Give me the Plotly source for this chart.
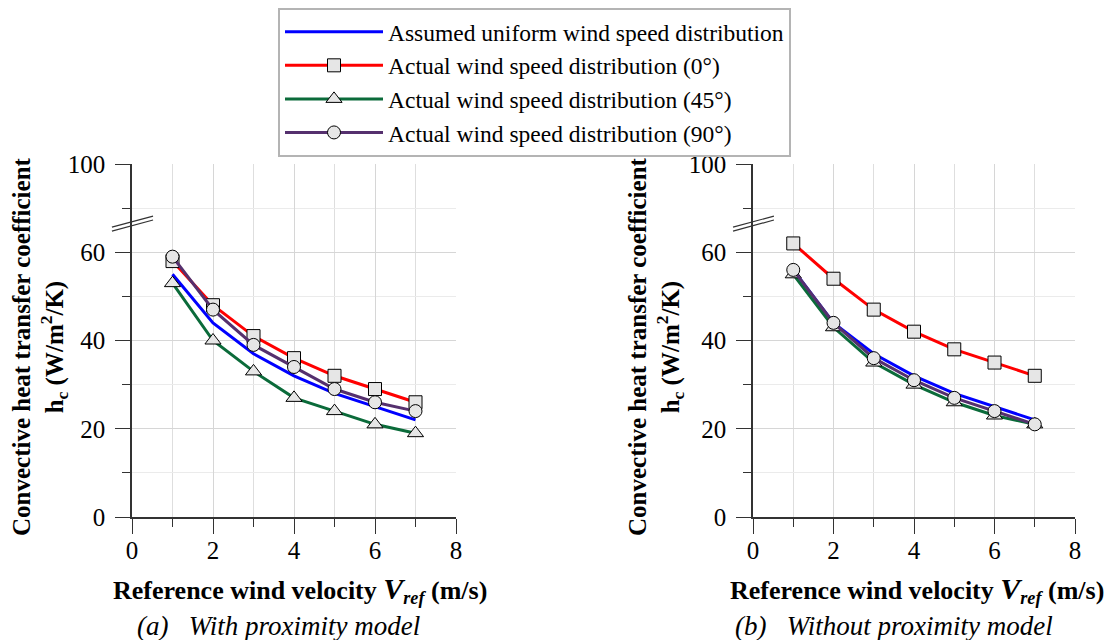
import plotly.graph_objects as go

speed = [1, 2, 3, 4, 5, 6, 7]

# (a) with proximity model
a_uniform = [55, 44, 37, 32, 28, 25, 22]
a_0deg = [58, 48, 41, 36, 32, 29, 26]
a_45deg = [53, 40, 33, 27, 24, 21, 19]
a_90deg = [59, 47, 39, 34, 29, 26, 24]

# (b) without proximity model
b_uniform = [56, 44, 37, 32, 28, 25, 22]
b_0deg = [62, 54, 47, 42, 38, 35, 32]
b_45deg = [55, 43, 35, 30, 26, 23, 21]
b_90deg = [56, 44, 36, 31, 27, 24, 21]

names = [
    "Assumed uniform wind speed distribution",
    "Actual wind speed distribution (0°)",
    "Actual wind speed distribution (45°)",
    "Actual wind speed distribution (90°)",
]
colors = ["#0000ff", "#ff0000", "#0b6b3a", "#55306e"]
symbols = [None, "square", "triangle-up", "circle"]
sizes = [0, 13, 14, 13]

# y axis is broken above 60: the top tick position carries the "100" label
y_ticks = [0, 20, 40, 60, 80]
y_ticktext = ["0", "20", "40", "60", "100"]
x_ticks = [0, 2, 4, 6, 8]

FONT = "Liberation Serif, Times New Roman, Tinos, DejaVu Serif, serif"

# the page body adds an 8px offset; place things in screen pixels
W, H, OFF = 1116, 640, 8
def px(x):
    return (x - OFF) / W
def py(y):
    return 1 - (y - OFF) / H

fig = go.Figure()

panels = [
    ("x", "y", [a_uniform, a_0deg, a_45deg, a_90deg], True),
    ("x2", "y2", [b_uniform, b_0deg, b_45deg, b_90deg], False),
]
for xa, ya, series, show in panels:
    for i, vals in enumerate(series):
        if symbols[i] is None:
            mode, marker = "lines", None
        else:
            mode = "lines+markers"
            marker = dict(symbol=symbols[i], size=sizes[i],
                          color="#e6e6e6", line=dict(color="black", width=1))
        fig.add_trace(go.Scatter(
            x=speed, y=vals, mode=mode, name=names[i],
            line=dict(color=colors[i], width=3), marker=marker,
            xaxis=xa, yaxis=ya, showlegend=show, legendgroup=str(i),
        ))

axis_common = dict(
    showline=True, linecolor="#333333", linewidth=1.5,
    ticks="outside", ticklen=15, tickcolor="#333333", tickwidth=1.2,
    showgrid=True, gridcolor="#d6d6d6", gridwidth=1.3,
    zeroline=False, automargin=False,
    tickfont=dict(family=FONT, size=25, color="black"),
)

xcommon = dict(axis_common, range=[0, 8], tickvals=x_ticks, ticklabelstandoff=-5,
               minor=dict(dtick=1, ticklen=8, tickcolor="#333333",
                          showgrid=True, gridcolor="#dedede", gridwidth=1.3))
ycommon = dict(axis_common, range=[0, 80], tickvals=y_ticks, ticktext=y_ticktext,
               ticklabelstandoff=5,
               minor=dict(dtick=10, ticklen=8, tickcolor="#333333",
                          showgrid=True, gridcolor="#ebebeb", gridwidth=1.3))

fig.update_layout(
    width=W, height=H,
    margin=dict(l=0, r=0, t=0, b=0, autoexpand=False),
    paper_bgcolor="white", plot_bgcolor="white",
    font=dict(family=FONT, color="black"),
    xaxis=dict(xcommon, domain=[px(132), px(456)], anchor="y"),
    yaxis=dict(ycommon, domain=[py(517), py(164)], anchor="x"),
    xaxis2=dict(xcommon, domain=[px(753), px(1075)], anchor="y2"),
    yaxis2=dict(ycommon, domain=[py(517), py(164)], anchor="x2"),
    legend=dict(
        x=px(278), y=1, xanchor="left", yanchor="top",
        bgcolor="white", bordercolor="#b4b4b4", borderwidth=2,
        font=dict(family=FONT, size=23.5, color="black"),
        tracegroupgap=0, itemwidth=98,
    ),
)

ytitle = ("<b>Convective heat transfer coefficient</b><br>"
          "<b>h<sub>c</sub> (W/m<sup>2</sup>/K)</b>")
xtitle = ("<b>Reference wind velocity "
          "<i><span style='font-size:30px'>V</span><sub>ref</sub></i> (m/s)</b>")

annotations = []
for xc_title, xc_sub, ytx, sub in [
    (300, 278, 40, "(a)&nbsp;&nbsp;&nbsp;With proximity model"),
    (917, 894, 656, "(b)&nbsp;&nbsp;&nbsp;Without proximity model"),
]:
    annotations.append(dict(x=px(ytx), y=py(347), xref="paper", yref="paper",
                            xanchor="center", yanchor="middle",
                            text=ytitle, textangle=-90, showarrow=False,
                            font=dict(family=FONT, size=25)))
    annotations.append(dict(x=px(xc_title), y=py(590), xref="paper", yref="paper",
                            xanchor="center", yanchor="middle",
                            text=xtitle, showarrow=False,
                            font=dict(family=FONT, size=26)))
    annotations.append(dict(x=px(xc_sub), y=py(626), xref="paper", yref="paper",
                            xanchor="center", yanchor="middle",
                            text="<i>" + sub + "</i>",
                            showarrow=False, font=dict(family=FONT, size=27)))
fig.update_layout(annotations=annotations)

# axis-break marks on both y axes
shapes = []
for xr, yr in [("x domain", "y"), ("x2 domain", "y2")]:
    for off in [0, 0.9]:
        shapes.append(dict(type="line", xref=xr, yref=yr,
                           x0=-0.062, x1=0.065, y0=64.8 + off, y1=67.3 + off,
                           line=dict(color="#333333", width=1.2)))
fig.update_layout(shapes=shapes)

fig.write_html("out.html")
